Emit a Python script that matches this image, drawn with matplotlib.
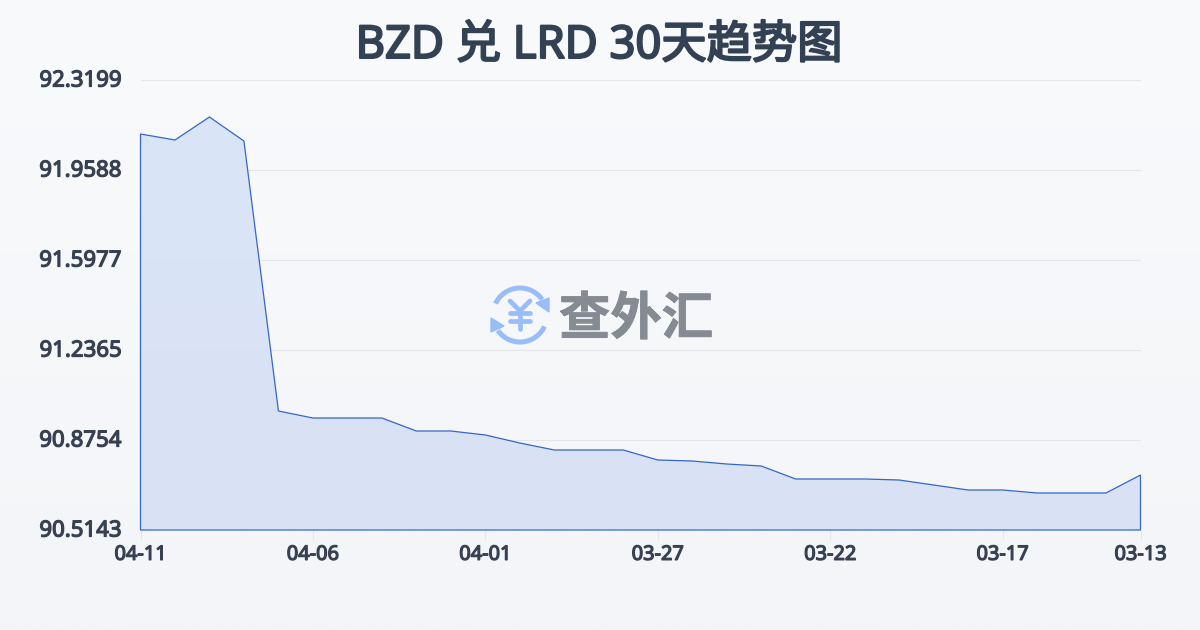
import numpy as np
import matplotlib
matplotlib.use("Agg")
import matplotlib.pyplot as plt
from matplotlib.colors import LinearSegmentedColormap
from matplotlib.patches import Arc, Polygon
from matplotlib.transforms import ScaledTranslation
import matplotlib.patheffects as pe

FONTS = ['Noto Sans', 'Noto Sans CJK SC', 'DejaVu Sans']
plt.rcParams['font.family'] = FONTS

title = "BZD 兑 LRD 30天趋势图"
watermark = "查外汇"
values = [92.1032, 92.0792, 92.1714, 92.0751, 90.9918, 90.9637, 90.9637, 90.9637,
          90.9115, 90.9115, 90.8955, 90.8634, 90.8353, 90.8353, 90.8353, 90.7952,
          90.7912, 90.7791, 90.7711, 90.7190, 90.7190, 90.7190, 90.7149, 90.6949,
          90.6748, 90.6748, 90.6628, 90.6628, 90.6628, 90.7350]
tick_index = [0, 5, 10, 15, 20, 25, 29]
tick_labels = ["04-11", "04-06", "04-01", "03-27", "03-22", "03-17", "03-13"]
y_ticks = [90.5143, 90.8754, 91.2365, 91.5977, 91.9588, 92.3199]

W, H = 1200, 630
TEXT = "#374151"
LINE = "#3566c8"


def embolden(artist, width, color):
    # the installed Noto Sans has only a regular face, so thicken its outline
    artist.set_path_effects([pe.withStroke(linewidth=width, foreground=color)])


fig = plt.figure(figsize=(W / 100, H / 100), dpi=100)

bg = fig.add_axes([0, 0, 1, 1], zorder=0)
bg.axis("off")
bg.imshow(np.linspace(0, 1, 256).reshape(-1, 1), aspect="auto",
          cmap=LinearSegmentedColormap.from_list("bg", ["#f9fafc", "#f3f5f8"]))

ax = fig.add_axes([140.5 / W, 1 - 530 / H, 1000 / W, 450 / H], zorder=1)
ax.patch.set_alpha(0)
x = np.arange(len(values))

for s in ax.spines.values():
    s.set_visible(False)
ax.set_yticks(y_ticks, [f"{v:.4f}" for v in y_ticks])
ax.set_xticks(tick_index, tick_labels)
ax.grid(axis="y", color="#e5e7eb", lw=0.75)
ax.set_axisbelow(True)
ax.tick_params(axis="y", length=0, pad=13.5, labelsize=16, labelcolor=TEXT)
ax.tick_params(axis="x", length=7.2, width=0.8, color="#e4e7ec", pad=3.5, labelsize=14.4, labelcolor=TEXT)
up = ScaledTranslation(0, 1.5 / 100, fig.dpi_scale_trans)
for lab in ax.get_yticklabels():
    embolden(lab, 0.9, TEXT)
    lab.set_transform(lab.get_transform() + up)
for lab in ax.get_xticklabels():
    embolden(lab, 0.9, TEXT)

verts = [(x[0], y_ticks[0])] + list(zip(x, values)) + [(x[-1], y_ticks[0])]
clip = Polygon(verts, closed=True, transform=ax.transData, fc="none", ec="none")
ax.add_patch(clip)
cmap = LinearSegmentedColormap.from_list("area", ["#d9e5f8", "#d8e0f4"])
im = ax.imshow(np.linspace(0, 1, 256).reshape(-1, 1), aspect="auto", cmap=cmap, alpha=0.95,
               extent=[x[0], x[-1], y_ticks[0], y_ticks[-1]], zorder=2)
im.set_clip_path(clip)
ax.add_patch(Polygon(verts, closed=True, fc="none", ec=LINE, lw=0.9, zorder=3, clip_on=False))
ax.set_xlim(0, len(values) - 1)
ax.set_ylim(y_ticks[0], y_ticks[-1])

ov = fig.add_axes([0, 0, 1, 1], zorder=2)
ov.set_xlim(0, W)
ov.set_ylim(H, 0)
ov.axis("off")
title_text = ov.text(599, 46, title, ha="center", va="center", fontsize=32.6, color="#334155")
embolden(title_text, 1.5, "#334155")
mark = ov.text(636, 319, watermark, ha="center", va="center", fontsize=37, fontweight="bold",
               color="#858a93", family=['Noto Sans CJK SC', 'DejaVu Sans'])
embolden(mark, 0.6, "#858a93")

BLUE = "#98bdf8"
cx, cy = 520, 315
ov.add_patch(Arc((cx, cy), 54, 54, theta1=205, theta2=325, color=BLUE, lw=3.6))
ov.add_patch(Arc((cx, cy), 54, 54, theta1=25, theta2=145, color=BLUE, lw=3.6))
ov.add_patch(Polygon([(536, 303), (549, 298), (549, 312)], closed=True, fc=BLUE, ec=BLUE, lw=1))
ov.add_patch(Polygon([(491, 318), (504, 326), (491, 332)], closed=True, fc=BLUE, ec=BLUE, lw=1))
yen = dict(color=BLUE, lw=3.4, solid_capstyle="round", solid_joinstyle="round")
ov.plot([510, 520, 530], [301, 311, 301], **yen)
ov.plot([520, 520], [311, 329], **yen)
ov.plot([510, 530], [313, 313], **yen)
ov.plot([510, 530], [321, 321], **yen)

fig.savefig("out.png", dpi=100)
